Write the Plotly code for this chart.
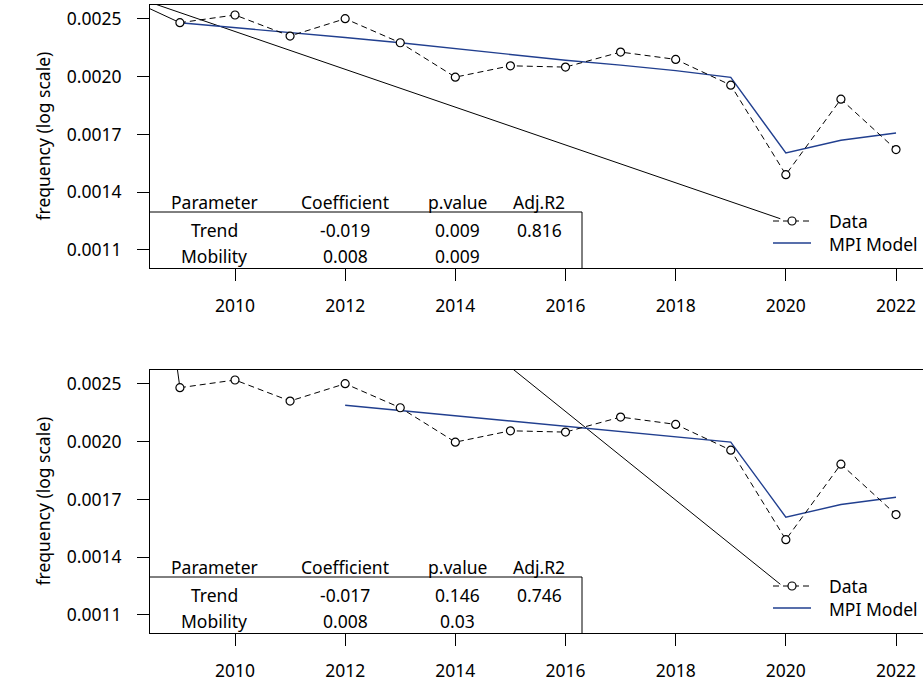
import numpy as np
import plotly.graph_objects as go

# ---------------- data ----------------
years = list(range(2009, 2023))
data_freq = [0.0024471, 0.0025134, 0.0023366, 0.0024813, 0.0022829, 0.0020264, 0.0021076,
             0.0020981, 0.0022103, 0.0021550, 0.0019709, 0.0014453, 0.0018774, 0.0015764]

mpi1_years = list(range(2009, 2023))
mpi1_freq = [0.0024471, 0.0024066, 0.0023668, 0.0023245, 0.0022829, 0.0022373, 0.0021912,
             0.0021482, 0.0021127, 0.0020727, 0.0020243, 0.0015579, 0.0016282, 0.0016700]

mpi2_years = list(range(2012, 2023))
mpi2_freq = [0.0023030, 0.0022612, 0.0022202, 0.0021800, 0.0021404, 0.0021023, 0.0020642,
             0.0020268, 0.0015622, 0.0016322, 0.0016739]

# black straight lines (partly outside the plotting region)
guide1_x = [2009, 2007.49, 2019.9]
guide1_y = [0.0024471, 0.0027982, 0.0012405]
guide2_x = [2009, 2008.2, 2019.9]
guide2_y = [0.0024471, 0.007469, 0.0012382]

x_ticks = [2010, 2012, 2014, 2016, 2018, 2020, 2022]
y_tick_ln = [-6.0, -6.2, -6.4, -6.6, -6.8]
y_tick_labels = ["0.0025", "0.0020", "0.0017", "0.0014", "0.0011"]

table_header = ["Parameter", "Coefficient", "p.value", "Adj.R2"]
table1_rows = [["Trend", "-0.019", "0.009", "0.816"],
               ["Mobility", "0.008", "0.009", ""]]
table2_rows = [["Trend", "-0.017", "0.146", "0.746"],
               ["Mobility", "0.008", "0.03", ""]]

legend_labels = ["Data", "MPI Model"]

# ---------------- style / layout ----------------
FONT = "Noto Sans"
FS = 17.5
BLUE = "#213f8f"
W, H = 923, 685
ML, MR, MT, MB = 150, 0, 5, 52
PW, PH = W - ML - MR, H - MT - MB


def px(x):
    return (x - ML) / PW


def py(y):
    return (H - MB - y) / PH


panel_tops = [5, 370]
panel_h = 263

fig = go.Figure()

panels = [
    (table1_rows, mpi1_years, mpi1_freq, guide1_x, guide1_y),
    (table2_rows, mpi2_years, mpi2_freq, guide2_x, guide2_y),
]

annotations = []
shapes = []

for i, (rows, myears, mfreq, gx, gy) in enumerate(panels):
    xa = "x" if i == 0 else "x2"
    ya = "y" if i == 0 else "y2"
    # guide line
    fig.add_trace(go.Scatter(x=gx, y=gy, mode="lines", xaxis=xa, yaxis=ya,
                             line=dict(color="black", width=1), showlegend=False,
                             hoverinfo="skip"))
    # model
    fig.add_trace(go.Scatter(x=myears, y=mfreq, mode="lines", xaxis=xa, yaxis=ya,
                             line=dict(color=BLUE, width=1.4), showlegend=False))
    # data
    fig.add_trace(go.Scatter(x=years, y=data_freq, mode="lines+markers", xaxis=xa, yaxis=ya,
                             line=dict(color="black", width=1, dash="6px,4px"),
                             marker=dict(symbol="circle", size=8, color="white",
                                         line=dict(color="black", width=1.2)),
                             showlegend=False))

    top = panel_tops[i]
    # table
    col_x = [214, 345, 457, 539]
    for cx, txt in zip(col_x, table_header):
        annotations.append(dict(x=px(cx), y=py(top + 197), xref="paper", yref="paper",
                                text=txt, showarrow=False, xanchor="center", yanchor="middle",
                                font=dict(family=FONT, size=FS, color="black")))
    for r, row in enumerate(rows):
        ry = top + (225 if r == 0 else 251)
        for cx, txt in zip(col_x, row):
            if txt:
                annotations.append(dict(x=px(cx), y=py(ry), xref="paper", yref="paper",
                                        text=txt, showarrow=False, xanchor="center",
                                        yanchor="middle",
                                        font=dict(family=FONT, size=FS, color="black")))
    shapes.append(dict(type="line", xref="paper", yref="paper", x0=px(150), x1=px(582),
                       y0=py(top + 207), y1=py(top + 207), line=dict(color="black", width=1)))
    shapes.append(dict(type="line", xref="paper", yref="paper", x0=px(582), x1=px(582),
                       y0=py(top + 207), y1=py(top + panel_h), line=dict(color="black", width=1)))

    # legend
    ly1 = top + 216
    ly2 = top + 238
    shapes.append(dict(type="line", xref="paper", yref="paper", x0=px(773), x1=px(811),
                       y0=py(ly1), y1=py(ly1),
                       line=dict(color="black", width=1, dash="6px,4px")))
    shapes.append(dict(type="circle", xref="paper", yref="paper",
                       x0=px(788), x1=px(796), y0=py(ly1 - 4), y1=py(ly1 + 4),
                       fillcolor="white", line=dict(color="black", width=1.2)))
    shapes.append(dict(type="line", xref="paper", yref="paper", x0=px(773), x1=px(811),
                       y0=py(ly2), y1=py(ly2), line=dict(color=BLUE, width=1.4)))
    annotations.append(dict(x=px(827), y=py(ly1), xref="paper", yref="paper",
                            text=legend_labels[0], showarrow=False, xanchor="left",
                            yanchor="middle", font=dict(family=FONT, size=FS, color="black")))
    annotations.append(dict(x=px(827), y=py(ly2 + 1), xref="paper", yref="paper",
                            text=legend_labels[1], showarrow=False, xanchor="left",
                            yanchor="middle", font=dict(family=FONT, size=FS, color="black")))

    # y axis title
    annotations.append(dict(x=px(42), y=py(top + panel_h / 2), xref="paper", yref="paper",
                            text="frequency (log scale)", showarrow=False, textangle=-90,
                            xanchor="center", yanchor="middle",
                            font=dict(family=FONT, size=FS, color="black")))

x_range = [2008.457, 2022.49]
y_range = [float(np.log10(np.exp(-6.863))), float(np.log10(np.exp(-5.9515)))]
tickvals = [float(np.exp(v)) for v in y_tick_ln]

xaxis_common = dict(range=x_range, tickvals=x_ticks, ticktext=[str(t) for t in x_ticks],
                    showline=True, mirror=True, linecolor="black", linewidth=1,
                    ticks="outside", ticklen=12, tickcolor="black", tickwidth=1,
                    ticklabelstandoff=10, showgrid=False, zeroline=False,
                    tickfont=dict(family=FONT, size=FS, color="black"))
yaxis_common = dict(type="log", range=y_range, tickvals=tickvals, ticktext=y_tick_labels,
                    showline=True, mirror=False, linecolor="black", linewidth=1,
                    ticks="outside", ticklen=12, tickcolor="black", tickwidth=1,
                    ticklabelstandoff=12, showgrid=False, zeroline=False,
                    tickfont=dict(family=FONT, size=FS, color="black"))

d1 = [py(panel_tops[0] + panel_h), py(panel_tops[0])]
d2 = [py(panel_tops[1] + panel_h), py(panel_tops[1])]

fig.update_layout(
    width=W, height=H,
    margin=dict(l=ML, r=MR, t=MT, b=MB),
    paper_bgcolor="white", plot_bgcolor="white",
    xaxis=dict(**xaxis_common, domain=[0, 1], anchor="y"),
    yaxis=dict(**yaxis_common, domain=d1, anchor="x"),
    xaxis2=dict(**xaxis_common, domain=[0, 1], anchor="y2"),
    yaxis2=dict(**yaxis_common, domain=d2, anchor="x2"),
    annotations=annotations,
    shapes=shapes,
    showlegend=False,
    font=dict(family=FONT, size=FS, color="black"),
)

fig.write_html(
    "out.html",
    config={"displayModeBar": False},
    post_script="document.body.style.margin='0';document.body.style.overflow='hidden';",
)
